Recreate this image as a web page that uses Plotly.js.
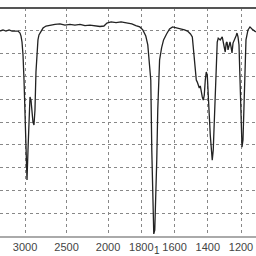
<!DOCTYPE html>
<html>
<head>
<meta charset="utf-8">
<script src="https://cdn.plot.ly/plotly-3.0.1.min.js"></script>
<style>html,body{margin:0;padding:0;background:#fff;}#chart{width:256px;height:256px;}</style>
</head>
<body>
<div id="chart"></div>
<script>
// Wavenumbers (cm-1) and transmittance (%)
var wavenumber = [3300,3265,3229,3192,3156,3120,3084,3060,3048,3036,3024,3012,3000,2988,2976,2964,2952,2940,2928,2916,2904,2892,2880,2868,2856,2844,2832,2808,2783,2747,2699,2639,2579,2519,2459,2399,2338,2278,2218,2158,2098,2050,2014,
1982,1952,1922,1893,1875,1857,1833,1809,1791,1773,1761,1755,1749,1743,1737,1731,1725,1719,1713,1707,1701,1696,1690,1678,1666,1648,1630,1612,1594,1576,1558,1540,1522,1504,1493,1487,1481,1475,1469,1463,1457,1451,1445,1439,1433,1427,1421,1415,1409,1403,1397,1391,1385,1379,1373,1367,1361,1355,1349,1343,1337,1325,1313,1301,1295,1289,1284,1278,1272,1266,1260,1254,1248,1242,1236,1230,1224,1218,1212,1206,1200,1194,1188,1182,1176,1170,1158,1146,1134,1122,1111];
var transmittance = [89.9,90.4,89.9,90.4,89.9,89.9,89.9,89.0,87.7,85.1,79.4,68.4,53.1,35.5,24.6,37.7,53.1,61.0,59.6,54.4,50.0,48.7,55.3,71.9,82.5,86.0,88.2,89.9,91.2,92.1,92.5,92.8,93.0,92.5,92.8,92.5,92.8,92.3,92.5,92.1,91.9,92.1,93.4,
93.9,93.6,93.9,93.6,93.4,93.0,92.3,91.7,90.4,87.7,83.8,79.4,72.8,68.4,37.7,15.8,0.9,2.6,15.8,33.3,55.3,68.4,77.2,82.5,86.0,88.6,90.8,91.7,91.4,91.2,90.8,90.4,89.9,88.6,87.3,82.5,76.3,69.7,68.4,67.5,65.8,64.9,65.8,62.7,61.0,59.6,61.8,68.4,71.9,70.6,64.0,53.1,44.3,35.5,33.3,37.7,48.7,59.6,72.8,85.1,86.8,86.0,87.3,82.5,80.7,84.6,85.1,81.6,82.9,85.1,82.9,80.3,84.6,86.0,86.8,87.7,89.0,87.3,83.8,70.6,55.3,39.0,42.1,59.6,77.2,86.0,90.4,91.7,90.8,89.9,89.5];
var tickWavenumbers = [3000,2500,2000,1800,1600,1400,1200];
var tickLabels = ["3000","2500","2000","1800","1600","1400","1200"];

// Spectrometer chart scale: above 2000 cm-1 compressed by a factor of 2
function scaleWn(w){ return w > 2000 ? 2000 + (w - 2000) / 2 : w; }

var trace = {
  x: wavenumber.map(scaleWn),
  y: transmittance,
  type: 'scatter',
  mode: 'lines',
  line: {color: '#222', width: 1.3},
  hoverinfo: 'skip'
};

var layout = {
  width: 256, height: 256,
  margin: {l: 0, r: 0, t: 8, b: 20, pad: 0},
  paper_bgcolor: '#fff', plot_bgcolor: '#fff',
  showlegend: false,
  font: {family: 'Liberation Sans, Arial, sans-serif', size: 11, color: '#444'},
  xaxis: {
    range: [2650.5, 1109.7],
    tickvals: tickWavenumbers.map(scaleWn),
    ticktext: tickLabels,
    ticks: '',
    showgrid: true, gridcolor: '#888', gridwidth: 1, griddash: 'dot',
    showline: true, linecolor: '#aaa', linewidth: 2,
    zeroline: false,
    tickfont: {size: 11, color: '#444'}
  },
  yaxis: {
    range: [0, 100],
    tickvals: [10,20,30,40,50,60,70,80,90],
    showticklabels: false,
    ticks: '',
    showgrid: true, gridcolor: '#888', gridwidth: 1, griddash: 'dot',
    showline: false, zeroline: false
  },
  shapes: [
    {type: 'line', xref: 'paper', yref: 'paper', x0: 0, x1: 1, y0: 1, y1: 1, line: {color: '#555', width: 2}}
  ],
  annotations: [
    {text: '1', xref: 'paper', yref: 'paper', x: 0.615, y: -0.0877, yanchor: 'bottom', yshift: -2, showarrow: false, font: {size: 10, color: '#333'}}
  ]
};

Plotly.newPlot('chart', [trace], layout, {staticPlot: true, displayModeBar: false});
</script>
</body>
</html>
